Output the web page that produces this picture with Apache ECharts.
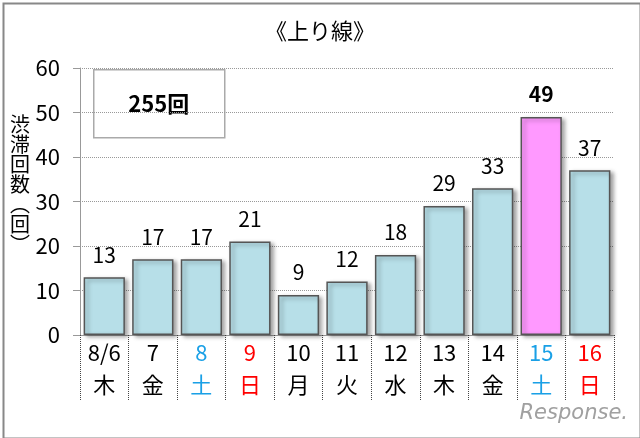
<!DOCTYPE html>
<html lang="ja">
<head>
    <meta charset="UTF-8">
    <title>上り線 渋滞回数</title>
    <script type="text/javascript" src="https://cdn.jsdelivr.net/npm/echarts@6/dist/echarts.min.js"></script>
    <style>
        html, body { margin: 0; padding: 0; background: #fff; }
    </style>
</head>
<body>
<div id="main" style="width:640px;height:438px;"></div>
<script type="text/javascript">
    // データ
    var days = ['8/6', '7', '8', '9', '10', '11', '12', '13', '14', '15', '16'];
    var weekdays = ['木', '金', '土', '日', '月', '火', '水', '木', '金', '土', '日'];
    var counts = [13, 17, 17, 21, 9, 12, 18, 29, 33, 49, 37];
    var yTicks = [0, 10, 20, 30, 40, 50, 60];
    var totalText = '255回';
    var peakIndex = 9;

    var FONT = '"Noto Sans CJK JP", "Liberation Sans", sans-serif';

    // 曜日で色分け（土=青、日=赤）
    function dayStyle(w) {
        if (w == '土') return 'sat';
        if (w == '日') return 'sun';
        return 'nor';
    }

    var barData = [];
    for (var i = 0; i < counts.length; i++) {
        var item = { value: counts[i] };
        if (i == peakIndex) {
            item.itemStyle = { color: '#ff99ff' };
            item.label = { fontWeight: 'bold' };
        }
        barData.push(item);
    }

    var myChart = echarts.init(document.getElementById('main'));
    var option = {
        backgroundColor: '#fff',
        animation: false,
        grid: { left: 80, right: 26, top: 68, bottom: 103 },
        xAxis: {
            type: 'category',
            data: days,
            axisLine: { lineStyle: { color: '#999', width: 1 } },
            axisTick: { show: true, length: 66, lineStyle: { color: '#444', type: 'dotted', width: 1 } },
            axisLabel: {
                margin: 2,
                interval: 0,
                formatter: function (v, idx) {
                    var s = dayStyle(weekdays[idx]);
                    return '{' + s + '|' + v + '}\n{' + s + '|' + weekdays[idx] + '}';
                },
                rich: {
                    nor: { color: '#000', fontSize: 22, lineHeight: 32, fontFamily: FONT },
                    sat: { color: '#1aa0e6', fontSize: 22, lineHeight: 32, fontFamily: FONT },
                    sun: { color: '#ff0000', fontSize: 22, lineHeight: 32, fontFamily: FONT }
                }
            }
        },
        yAxis: {
            type: 'value',
            min: 0,
            max: 60,
            interval: 10,
            axisLine: { show: true, lineStyle: { color: '#999' } },
            axisTick: { show: true, length: 7, lineStyle: { color: '#999' } },
            axisLabel: {
                margin: 20,
                color: '#000',
                fontSize: 22,
                fontFamily: FONT,
                formatter: function (v) { return yTicks.indexOf(v) >= 0 ? String(v) : ''; }
            },
            splitLine: { lineStyle: { color: '#999', type: 'dotted' } }
        },
        series: [{
            type: 'bar',
            data: barData,
            barCategoryGap: '15%',
            itemStyle: {
                color: '#b7dfe8',
                borderColor: '#555',
                borderWidth: 1.5,
                shadowColor: 'rgba(0,0,0,0.35)',
                shadowBlur: 4,
                shadowOffsetX: 3,
                shadowOffsetY: 2
            },
            label: {
                show: true,
                position: 'top',
                distance: 12,
                color: '#000',
                fontSize: 21,
                fontFamily: FONT
            }
        }],
        graphic: [
            // 外枠
            {
                type: 'rect', left: 1, top: 1, z: 0,
                shape: { width: 637, height: 435 },
                style: { fill: 'none', stroke: '#888', lineWidth: 2 }
            },
            // タイトル
            {
                type: 'text', left: 'center', top: 20, z: 10,
                style: { text: '《上り線》', fill: '#000', font: '22px ' + FONT }
            },
            // 縦書きの軸名
            {
                type: 'text', left: 10, top: 114, z: 10,
                style: {
                    text: '渋\n滞\n回\n数\n︵\n回\n︶',
                    font: '20px ' + FONT,
                    lineHeight: 20,
                    fill: '#000',
                    textAlign: 'left'
                }
            },
            // 合計ボックス
            {
                type: 'group', left: 93, top: 69, z: 10,
                children: [
                    {
                        type: 'rect',
                        shape: { x: 0, y: 0, width: 131, height: 68 },
                        style: { fill: '#fff', stroke: '#aaa', lineWidth: 1.5 }
                    },
                    {
                        type: 'text', x: 65, y: 34,
                        style: {
                            text: totalText,
                            font: 'bold 22px ' + FONT,
                            fill: '#000',
                            textAlign: 'center',
                            textVerticalAlign: 'middle'
                        }
                    }
                ]
            },
            // ロゴ
            {
                type: 'text', right: 12, top: 403, z: 10,
                style: {
                    text: 'Response.',
                    font: 'italic 21px "DejaVu Sans", sans-serif',
                    fill: '#a0a0a0'
                }
            }
        ]
    };
    myChart.setOption(option);
</script>
</body>
</html>
